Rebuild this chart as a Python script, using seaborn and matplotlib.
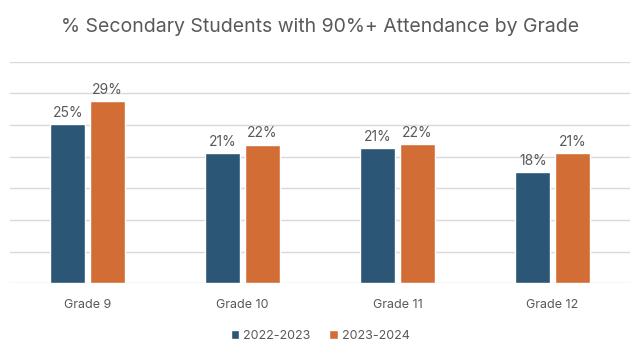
import matplotlib
matplotlib.use("Agg")
import matplotlib.pyplot as plt
import seaborn as sns
import pandas as pd
from matplotlib.patches import Patch

grades = ["Grade 9", "Grade 10", "Grade 11", "Grade 12"]
years = ["2022-2023", "2023-2024"]
vals_2022 = [25.2, 20.6, 21.4, 17.6]
vals_2023 = [28.8, 21.9, 22.0, 20.6]
colors = ["#2B5676", "#D36D36"]

df = pd.DataFrame({
    "grade": grades * 2,
    "year": [years[0]] * 4 + [years[1]] * 4,
    "pct": vals_2022 + vals_2023,
})

sns.set_style("white")
plt.rcParams['font.family'] = ['Inter', 'DejaVu Sans']
text_col = "#595959"

fig = plt.figure(figsize=(6.4, 3.6), dpi=100)
ax = fig.add_axes([10 / 640, 1 - 283.3 / 360, 620 / 640, (283.3 - 61.7) / 360])

sns.barplot(data=df, x="grade", y="pct", hue="year", palette=colors,
            width=0.51, gap=0.12, ax=ax, legend=False, saturation=1)

ax.set_ylim(0, 35)
ax.set_xlim(-0.5, 3.5)
ax.set_yticks(range(0, 36, 5))
ax.yaxis.grid(True, color="#d9d9d9", linewidth=1)
ax.set_axisbelow(True)
for s in ax.spines.values():
    s.set_visible(False)
ax.tick_params(axis="y", left=False, labelleft=False)
ax.tick_params(axis="x", bottom=False, labelsize=9, colors=text_col, pad=8)
ax.set_xlabel("")
ax.set_ylabel("")

for cont in ax.containers:
    ax.bar_label(cont, labels=[f"{v:.0f}%" for v in cont.datavalues],
                 padding=3, fontsize=10, color=text_col)

fig.text(0.5, 1 - 27 / 360, "% Secondary Students with 90%+ Attendance by Grade",
         ha="center", va="center", fontsize=14, color=text_col)

handles = [Patch(facecolor=c, label=y) for c, y in zip(colors, years)]
fig.legend(handles=handles, loc="center", bbox_to_anchor=(0.5, 1 - 336 / 360),
           ncol=2, frameon=False, fontsize=9, handlelength=0.7, handleheight=0.7,
           handletextpad=0.3, columnspacing=1.5, labelcolor=text_col)

fig.savefig("out.png", dpi=100)
